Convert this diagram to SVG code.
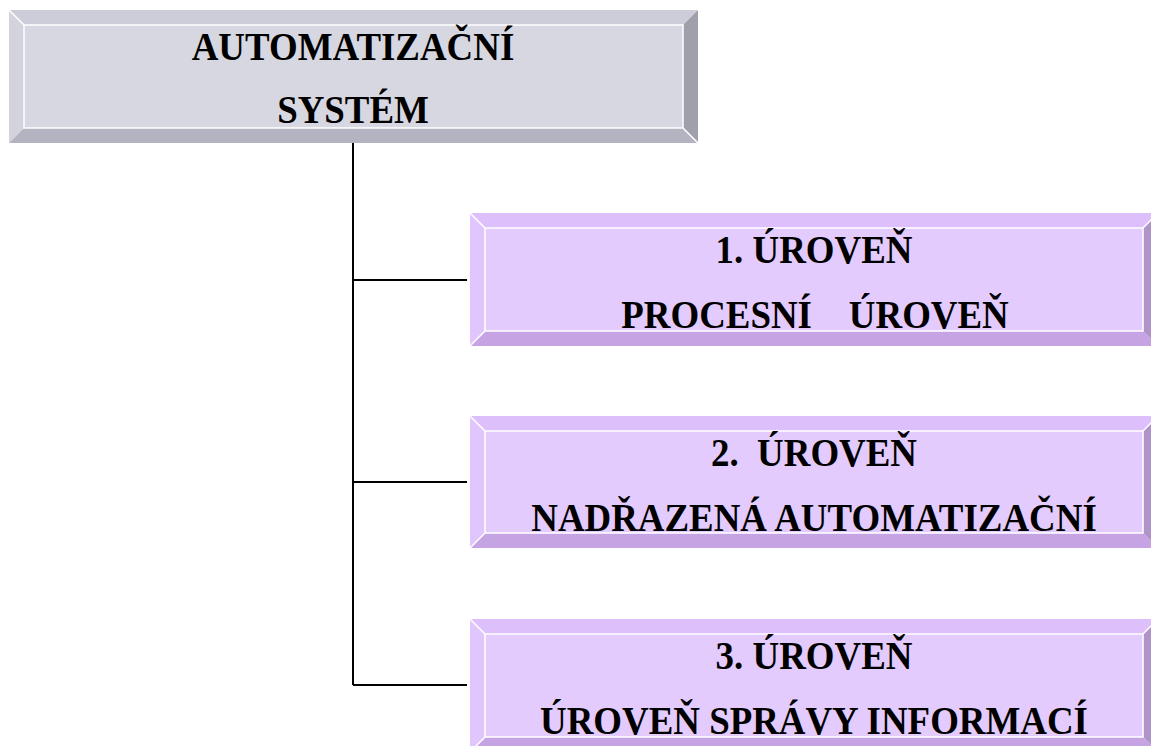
<svg xmlns="http://www.w3.org/2000/svg" width="1151" height="746" viewBox="0 0 1151 746">
<style>
.t{font-family:"Liberation Serif","Times New Roman",serif;font-weight:bold;font-size:41px;fill:#000;text-anchor:middle}
.edge{stroke:#000;stroke-width:2;fill:none}
.hl{stroke:#fff;stroke-width:1.5;fill:none}
.g .face{fill:#d7d7e1}.g .top{fill:#cdcdd9}.g .left{fill:#d3d3de}.g .bot{fill:#b3b3c1}.g .right{fill:#a0a0ac}
.p .face{fill:#e3cbfd}.p .top{fill:#ddbffc}.p .left{fill:#e0c6fc}.p .bot{fill:#c6a4e4}.p .right{fill:#b094c8}
</style>
<g id="connectors">
<path class="edge" d="M353 143 V685 M353 280 H467 M353 482 H467 M353 685 H467"/>
</g>
<g id="node-system" class="g">
<polygon class="top" points="9,10 698,10 683,25 24,25"/>
<polygon class="left" points="9,10 24,25 24,128 9,143"/>
<polygon class="bot" points="9,143 24,128 683,128 698,143"/>
<polygon class="right" points="698,10 698,143 683,128 683,25"/>
<rect class="face" x="24" y="25" width="659" height="103"/>
<path class="hl" d="M9,10 L24,25 M698,143 L683,128 M24,25 H683 V128 H24 Z"/>
<text class="t" transform="translate(353 60) scale(0.9 1)">AUTOMATIZAČNÍ</text>
<text class="t" transform="translate(353 123) scale(0.9 1)">SYSTÉM</text>
</g>
<g id="node-level1" class="p">
<polygon class="top" points="470,213 1158,213 1143,228 485,228"/>
<polygon class="left" points="470,213 485,228 485,331 470,346"/>
<polygon class="bot" points="470,346 485,331 1143,331 1158,346"/>
<polygon class="right" points="1158,213 1158,346 1143,331 1143,228"/>
<rect class="face" x="485" y="228" width="658" height="103"/>
<path class="hl" d="M470,213 L485,228 M470,346 L485,331 M1158,213 L1143,228 M485,228 H1143 V331 H485 Z"/>
<text class="t" transform="translate(814 263) scale(0.9 1)">1. ÚROVEŇ</text>
<text class="t" transform="translate(815 328) scale(0.9 1)" xml:space="preserve">PROCESNÍ    ÚROVEŇ</text>
</g>
<g id="node-level2" class="p">
<polygon class="top" points="470,416 1158,416 1143,431 485,431"/>
<polygon class="left" points="470,416 485,431 485,533 470,548"/>
<polygon class="bot" points="470,548 485,533 1143,533 1158,548"/>
<polygon class="right" points="1158,416 1158,548 1143,533 1143,431"/>
<rect class="face" x="485" y="431" width="658" height="102"/>
<path class="hl" d="M470,416 L485,431 M470,548 L485,533 M1158,416 L1143,431 M485,431 H1143 V533 H485 Z"/>
<text class="t" transform="translate(814 466) scale(0.9 1)" xml:space="preserve">2.  ÚROVEŇ</text>
<text class="t" transform="translate(814 531) scale(0.9 1)">NADŘAZENÁ AUTOMATIZAČNÍ</text>
</g>
<g id="node-level3" class="p">
<polygon class="top" points="470,619 1158,619 1143,634 485,634"/>
<polygon class="left" points="470,619 485,634 485,737 470,752"/>
<polygon class="bot" points="470,752 485,737 1143,737 1158,752"/>
<polygon class="right" points="1158,619 1158,752 1143,737 1143,634"/>
<rect class="face" x="485" y="634" width="658" height="103"/>
<path class="hl" d="M470,619 L485,634 M470,752 L485,737 M1158,619 L1143,634 M485,634 H1143 V737 H485 Z"/>
<text class="t" transform="translate(814 669) scale(0.9 1)">3. ÚROVEŇ</text>
<text class="t" transform="translate(814 734) scale(0.9 1)">ÚROVEŇ SPRÁVY INFORMACÍ</text>
</g>
</svg>
